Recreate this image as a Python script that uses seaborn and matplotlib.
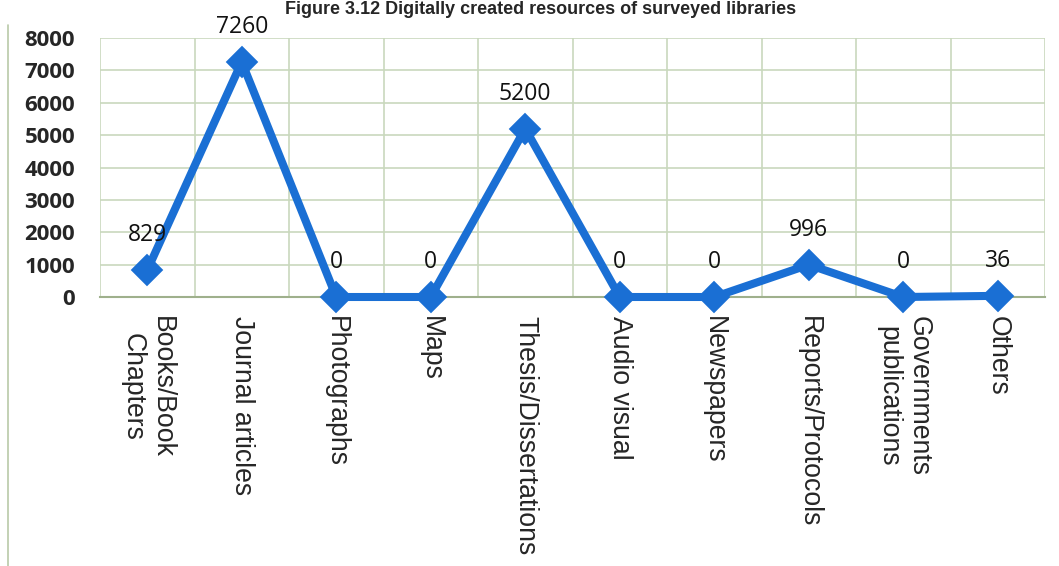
import numpy as np
import matplotlib.pyplot as plt
import matplotlib.lines as mlines
from matplotlib.ticker import FixedLocator
import seaborn as sns

# chart data
categories = ["Books/Book\nChapters", "Journal articles", "Photographs", "Maps",
              "Thesis/Dissertations", "Audio visual", "Newspapers",
              "Reports/Protocols", "Governments\npublications", "Others"]
values = [829, 7260, 0, 0, 5200, 0, 0, 996, 0, 36]
y_ticks = [0, 1000, 2000, 3000, 4000, 5000, 6000, 7000, 8000]
title = "Figure 3.12 Digitally created resources of surveyed libraries"

sns.set_style("white")
plt.rcParams["font.family"] = ["Liberation Sans", "DejaVu Sans"]

blue = "#1a6fd4"
grid_col = "#c9d8bd"

fig = plt.figure(figsize=(10.59, 5.66), dpi=100)
ax = fig.add_axes([100 / 1059, 1 - 297 / 566, 945 / 1059, 259 / 566])

sns.pointplot(x=categories, y=values, ax=ax, color=blue, markers="D",
              errorbar=None, markersize=12, linewidth=5.8)
for ln in ax.lines:
    ln.set_clip_on(False)
    ln.set_zorder(5)

ax.set_xlim(-0.5, len(categories) - 0.5)
ax.set_ylim(0, 8000)
ax.set_yticks(y_ticks)
ax.set_yticklabels([str(v) for v in y_ticks], family="Open Sans",
                   fontsize=16, fontweight="bold")
ax.set_xticks(range(len(categories)))
ax.set_xticklabels(categories, rotation=270, fontsize=19.2,
                   ha="center", va="top", multialignment="center")
ax.xaxis.set_minor_locator(FixedLocator(np.arange(-0.5, len(categories), 1)))
ax.tick_params(axis="x", which="major", length=0, pad=14)
ax.tick_params(axis="x", which="minor", length=7, color="#9fb08c", width=1.2)
ax.tick_params(axis="y", length=0, pad=18)

ax.grid(axis="y", which="major", color=grid_col, linewidth=1.2)
ax.grid(axis="x", which="minor", color=grid_col, linewidth=1.2)
ax.set_axisbelow(True)
for s in ["top", "right", "left"]:
    ax.spines[s].set_visible(False)
ax.spines["bottom"].set_color("#9fb08c")
ax.spines["bottom"].set_linewidth(1.5)
ax.set_xlabel("")
ax.set_ylabel("")

for i, v in enumerate(values):
    ax.annotate(str(v), (i, v), xytext=(0, 25), textcoords="offset points",
                ha="center", va="center", family="Open Sans", fontsize=16.5,
                color="#111111", zorder=6)

# chart frame on the left and the title at the top
fig.add_artist(mlines.Line2D([8 / 1059, 8 / 1059], [0, 0.955],
                             transform=fig.transFigure, color="#b9c9a8", lw=1.2))
fig.text(0.51, 0.998, title, ha="center", va="top",
         fontsize=13, fontweight="bold")

plt.savefig("out.png", dpi=100)
